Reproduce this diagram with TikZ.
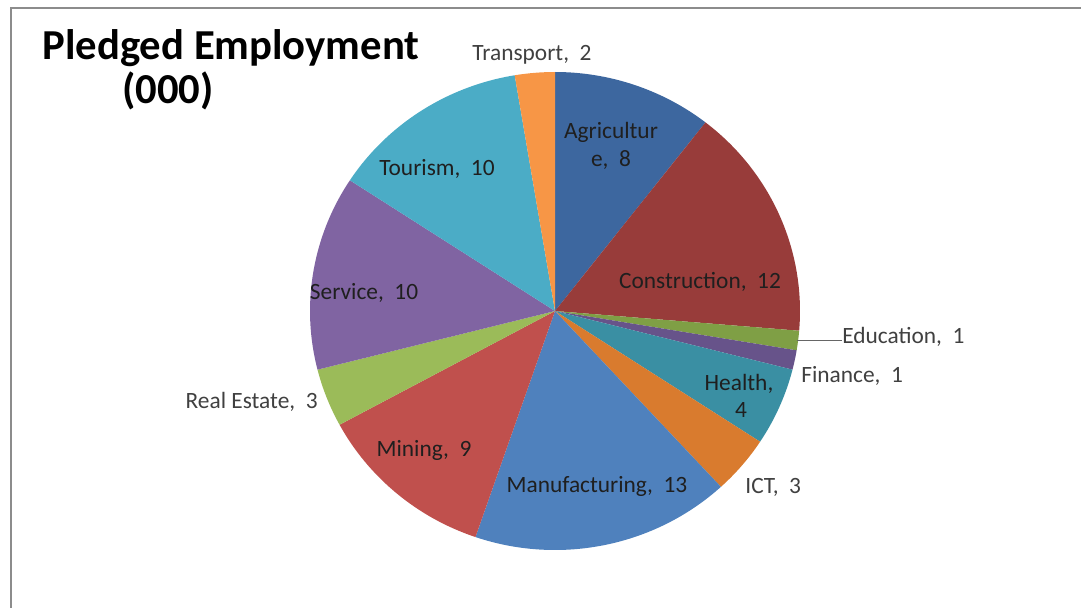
\documentclass[tikz,border=0pt]{standalone}
\usepackage{fontspec}
\setmainfont{Carlito}
\definecolor{agri}{HTML}{3D679F}
\definecolor{constr}{HTML}{983C3A}
\definecolor{educ}{HTML}{7F9F45}
\definecolor{fin}{HTML}{67538A}
\definecolor{health}{HTML}{3A8FA3}
\definecolor{ict}{HTML}{D97B2E}
\definecolor{manuf}{HTML}{4F81BD}
\definecolor{mining}{HTML}{C0504D}
\definecolor{realest}{HTML}{9BBB59}
\definecolor{service}{HTML}{8064A2}
\definecolor{tourism}{HTML}{4BACC6}
\definecolor{transp}{HTML}{F79646}
\tikzset{
  inlabel/.style={font=\fontsize{13.3}{15}\selectfont, text=black!88, inner sep=0pt, anchor=base},
  outlabel/.style={font=\fontsize{13.3}{15}\selectfont, text=black!75, inner sep=0pt, anchor=base west}
}
\begin{document}
\begin{tikzpicture}[x=0.02cm,y=-0.02cm]
    \useasboundingbox (0,0) rectangle (1081,608);
    \draw[black!45,line width=1.1pt] (11,608) -- (11,8) -- (1081,8);
    % title
    \node[font=\fontsize{24.3}{28}\selectfont\bfseries, inner sep=0pt, anchor=base] (title1) at (231,60) {Pledged Employment};
    \node[font=\fontsize{24.3}{28}\selectfont\bfseries, inner sep=0pt, anchor=base] (title2) at (168,104) {(000)};
    % slices, clockwise from the top
    \coordinate (c) at (555,311);
    \fill[agri]    (c) -- ++(-90:245 and 239) arc[start angle=-90, end angle=-52.105, x radius=245, y radius=239] -- cycle;
    \fill[constr]  (c) -- ++(-52.105:245 and 239) arc[start angle=-52.105, end angle=4.737, x radius=245, y radius=239] -- cycle;
    \fill[educ]    (c) -- ++(4.737:245 and 239) arc[start angle=4.737, end angle=9.474, x radius=245, y radius=239] -- cycle;
    \fill[fin]     (c) -- ++(9.474:245 and 239) arc[start angle=9.474, end angle=14.211, x radius=245, y radius=239] -- cycle;
    \fill[health]  (c) -- ++(14.211:245 and 239) arc[start angle=14.211, end angle=33.158, x radius=245, y radius=239] -- cycle;
    \fill[ict]     (c) -- ++(33.158:245 and 239) arc[start angle=33.158, end angle=47.368, x radius=245, y radius=239] -- cycle;
    \fill[manuf]   (c) -- ++(47.368:245 and 239) arc[start angle=47.368, end angle=108.947, x radius=245, y radius=239] -- cycle;
    \fill[mining]  (c) -- ++(108.947:245 and 239) arc[start angle=108.947, end angle=151.579, x radius=245, y radius=239] -- cycle;
    \fill[realest] (c) -- ++(151.579:245 and 239) arc[start angle=151.579, end angle=165.789, x radius=245, y radius=239] -- cycle;
    \fill[service] (c) -- ++(165.789:245 and 239) arc[start angle=165.789, end angle=213.158, x radius=245, y radius=239] -- cycle;
    \fill[tourism] (c) -- ++(213.158:245 and 239) arc[start angle=213.158, end angle=260.526, x radius=245, y radius=239] -- cycle;
    \fill[transp]  (c) -- ++(260.526:245 and 239) arc[start angle=260.526, end angle=270, x radius=245, y radius=239] -- cycle;
    % labels inside
    \node[inlabel] (agri1) at (611,138) {Agricultur};
    \node[inlabel] (agri2) at (611,166) {e,~~8};
    \node[inlabel] (constrlab) at (700,288) {Construction,~~12};
    \node[inlabel] (health1) at (739,390) {Health,};
    \node[inlabel] (health2) at (741,417) {4};
    \node[inlabel] (manuflab) at (597,492) {Manufacturing,~~13};
    \node[inlabel] (mininglab) at (424,456) {Mining,~~9};
    \node[inlabel] (servicelab) at (364,299) {Service,~~10};
    \node[inlabel] (tourismlab) at (437,175) {Tourism,~~10};
    % labels outside
    \node[outlabel, anchor=base] (transplab) at (532,61) {Transport,~~2};
    \node[outlabel] (educlab) at (842,343) {Education,~~1};
    \node[outlabel] (finlab) at (801,382) {Finance,~~1};
    \node[outlabel] (ictlab) at (745,493) {ICT,~~3};
    \node[outlabel, anchor=base east] (realestlab) at (318,408) {Real Estate,~~3};
    % leader line
    \coordinate (educpt) at (797,340);
    \draw[black!60,line width=0.5pt] (educpt) -- (educlab.west |- educpt);
\end{tikzpicture}
\end{document}
